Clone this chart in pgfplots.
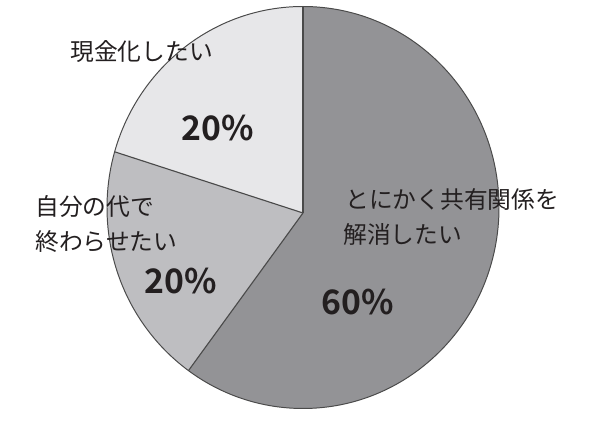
\documentclass[border=0pt]{standalone}
\usepackage{pgfplots}
\pgfplotsset{compat=1.18}
\usepackage{fontspec}
\newfontfamily\jp{Noto Sans CJK JP}
\newfontfamily\jpb{Noto Sans CJK JP Bold}
\definecolor{cA}{HTML}{939396}
\definecolor{cB}{HTML}{BEBEC1}
\definecolor{cC}{HTML}{E7E7E9}
\definecolor{tx}{HTML}{231F20}
\definecolor{ln}{HTML}{4A4A4A}
% data (percent)
\def\vA{60}\def\vB{20}\def\vC{20}
\pgfmathsetmacro\aA{90}
\pgfmathsetmacro\aB{\aA-\vA*3.6}
\pgfmathsetmacro\aC{\aB-\vB*3.6}
\pgfmathsetmacro\aD{\aC-\vC*3.6}
\begin{document}
\begin{tikzpicture}
\begin{axis}[
  width=15cm, height=10.775cm, scale only axis,
  xmin=0, xmax=600, ymin=0, ymax=431,
  hide axis, clip=false,
]
\path (axis cs:0,0) rectangle (axis cs:600,431);
\begin{scope}
\clip (axis cs:303,223.5) ellipse [x radius=4.9cm, y radius=5.025cm];
\fill[cA] (axis cs:303,218) -- ++(\aA:8cm) arc[start angle=\aA, end angle=\aB, radius=8cm] -- cycle;
\fill[cB] (axis cs:303,218) -- ++(\aB:8cm) arc[start angle=\aB, end angle=\aC, radius=8cm] -- cycle;
\fill[cC] (axis cs:303,218) -- ++(\aC:8cm) arc[start angle=\aC, end angle=\aD, radius=8cm] -- cycle;
\draw[ln, line width=0.8pt] (axis cs:303,218) -- ++(\aA:8cm);
\draw[ln, line width=0.8pt] (axis cs:303,218) -- ++(\aB:8cm);
\draw[ln, line width=0.8pt] (axis cs:303,218) -- ++(\aC:8cm);
\end{scope}
\draw[ln, line width=0.7pt] (axis cs:303,223.5) ellipse [x radius=4.9cm, y radius=5.025cm];
% labels
\node[anchor=base west, inner sep=0pt, text=tx, font=\jp\fontsize{16.9}{20}\selectfont] at (axis cs:70,370) {現金化したい};
\node[anchor=base west, inner sep=0pt, text=tx, font=\jp\fontsize{16.9}{20}\selectfont] at (axis cs:345,222) {とにかく共有関係を};
\node[anchor=base west, inner sep=0pt, text=tx, font=\jp\fontsize{16.9}{20}\selectfont] at (axis cs:343,187) {解消したい};
\node[anchor=base west, inner sep=0pt, text=tx, font=\jp\fontsize{16.9}{20}\selectfont] at (axis cs:35,215) {自分の代で};
\node[anchor=base west, inner sep=0pt, text=tx, font=\jp\fontsize{16.9}{20}\selectfont] at (axis cs:35,180) {終わらせたい};
\node[anchor=center, inner sep=0pt, text=tx, font=\jpb\fontsize{24}{24}\selectfont] at (axis cs:217.5,302.7) {\vC\%};
\node[anchor=center, inner sep=0pt, text=tx, font=\jpb\fontsize{24}{24}\selectfont] at (axis cs:358,129) {\vA\%};
\node[anchor=center, inner sep=0pt, text=tx, font=\jpb\fontsize{24}{24}\selectfont] at (axis cs:180.5,150) {\vB\%};
\end{axis}
\end{tikzpicture}
\end{document}
